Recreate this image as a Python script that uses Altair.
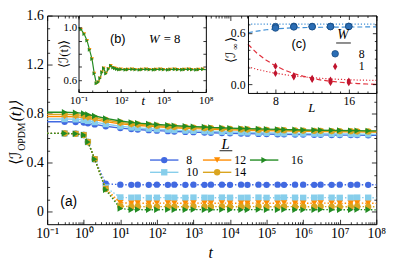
import altair as alt
import pandas as pd

# ---------------- data ----------------
T = [0.1, 0.3, 0.6, 1, 1.3, 2, 4, 10,
     20, 30, 60, 100, 200, 300, 600,
     1e3, 2e3, 3e3, 6e3, 1e4, 2e4, 3e4,
     6e4, 1e5, 2e5, 3e5, 6e5, 1e6, 2e6,
     3e6, 6e6, 1e7, 2e7, 3e7, 6e7, 1e8]
L_SIZES = [8, 10, 12, 14, 16]

upper_8 = [0.735, 0.735, 0.733, 0.728, 0.722, 0.713, 0.698, 0.683,
           0.675, 0.671, 0.666, 0.662, 0.658, 0.655, 0.652,
           0.650, 0.647, 0.645, 0.643, 0.641, 0.639, 0.638,
           0.636, 0.635, 0.633, 0.632, 0.631, 0.630, 0.629,
           0.628, 0.627, 0.627, 0.626, 0.626, 0.625, 0.624]
upper_10 = [0.757, 0.757, 0.755, 0.750, 0.742, 0.732, 0.716, 0.698,
            0.689, 0.684, 0.679, 0.674, 0.671, 0.667, 0.663,
            0.661, 0.658, 0.656, 0.653, 0.651, 0.649, 0.648,
            0.646, 0.644, 0.643, 0.641, 0.640, 0.639, 0.638,
            0.637, 0.636, 0.635, 0.635, 0.634, 0.633, 0.632]
upper_12 = [0.778, 0.778, 0.775, 0.770, 0.763, 0.752, 0.736, 0.718,
            0.709, 0.704, 0.699, 0.694, 0.690, 0.686, 0.682,
            0.679, 0.677, 0.674, 0.672, 0.669, 0.667, 0.666,
            0.664, 0.663, 0.661, 0.660, 0.658, 0.657, 0.656,
            0.655, 0.654, 0.653, 0.653, 0.652, 0.651, 0.650]
upper_14 = [0.795, 0.795, 0.792, 0.787, 0.778, 0.767, 0.749, 0.729,
            0.719, 0.714, 0.708, 0.703, 0.698, 0.694, 0.690,
            0.687, 0.684, 0.682, 0.679, 0.676, 0.674, 0.673,
            0.670, 0.669, 0.667, 0.666, 0.664, 0.663, 0.661,
            0.661, 0.659, 0.659, 0.658, 0.657, 0.656, 0.655]
upper_16 = [0.812, 0.812, 0.809, 0.803, 0.794, 0.782, 0.762, 0.741,
            0.730, 0.724, 0.718, 0.712, 0.707, 0.703, 0.698,
            0.695, 0.692, 0.689, 0.686, 0.683, 0.680, 0.679,
            0.677, 0.675, 0.673, 0.671, 0.670, 0.668, 0.667,
            0.666, 0.665, 0.664, 0.663, 0.662, 0.661, 0.660]

lower_8 = [0.640, 0.640, 0.637, 0.627, 0.570, 0.430, 0.230, 0.222,
           0.221, 0.222, 0.221, 0.222, 0.221, 0.222, 0.221,
           0.222, 0.221, 0.222, 0.222, 0.221, 0.222, 0.221,
           0.222, 0.221, 0.222, 0.221, 0.222, 0.222, 0.221,
           0.222, 0.221, 0.222, 0.221, 0.222, 0.221, 0.222]
lower_10 = [0.640, 0.640, 0.637, 0.627, 0.570, 0.430, 0.200, 0.118,
            0.116, 0.117, 0.115, 0.116, 0.117, 0.116, 0.115,
            0.117, 0.116, 0.115, 0.117, 0.116, 0.115, 0.116,
            0.117, 0.115, 0.116, 0.117, 0.116, 0.115, 0.116,
            0.117, 0.116, 0.115, 0.116, 0.117, 0.116, 0.115]
lower_12 = [0.640, 0.640, 0.637, 0.627, 0.570, 0.430, 0.190, 0.075,
            0.071, 0.072, 0.070, 0.071, 0.072, 0.071, 0.070,
            0.072, 0.071, 0.070, 0.072, 0.071, 0.070, 0.071,
            0.072, 0.070, 0.071, 0.072, 0.071, 0.070, 0.071,
            0.072, 0.071, 0.070, 0.071, 0.072, 0.071, 0.070]
lower_14 = [0.640, 0.640, 0.637, 0.627, 0.570, 0.430, 0.186, 0.047,
            0.043, 0.044, 0.042, 0.043, 0.044, 0.043, 0.042,
            0.044, 0.043, 0.042, 0.044, 0.043, 0.042, 0.043,
            0.044, 0.042, 0.043, 0.044, 0.043, 0.042, 0.043,
            0.044, 0.043, 0.042, 0.043, 0.044, 0.043, 0.042]
lower_16 = [0.640, 0.640, 0.637, 0.627, 0.570, 0.430, 0.180, 0.028,
            0.018, 0.019, 0.017, 0.018, 0.019, 0.018, 0.017,
            0.019, 0.018, 0.017, 0.019, 0.018, 0.017, 0.018,
            0.019, 0.017, 0.018, 0.019, 0.018, 0.017, 0.018,
            0.019, 0.018, 0.017, 0.018, 0.019, 0.018, 0.017]

UPPER = [upper_8, upper_10, upper_12, upper_14, upper_16]
LOWER = [lower_8, lower_10, lower_12, lower_14, lower_16]

# inset (b): W = 8
TB = [0.1, 0.15, 0.25, 0.4, 0.6, 0.9, 1.3, 1.8, 2.5, 3.3,
      4.5, 6, 8.6, 13, 19, 27, 36, 50, 70, 100,
      200, 300, 600, 1e3, 2e3, 3e3, 6e3, 1e4, 2e4, 3e4,
      6e4, 1e5, 2e5, 3e5, 6e5, 1e6, 2e6, 3e6, 6e6, 1e7,
      2e7, 3e7, 6e7, 1e8]
IB = [1.000, 0.985, 0.950, 0.900, 0.830, 0.760, 0.650, 0.575, 0.585, 0.615,
      0.660, 0.690, 0.650, 0.685, 0.710, 0.695, 0.690, 0.685, 0.680, 0.682,
      0.679, 0.681, 0.683, 0.680, 0.678, 0.681, 0.682, 0.680, 0.679, 0.681,
      0.683, 0.680, 0.678, 0.681, 0.682, 0.680, 0.679, 0.681, 0.683, 0.680,
      0.678, 0.681, 0.682, 0.680]

# inset (c): saturation values vs L
LC = [8, 10, 12, 14, 16]
w8_a = [0.672, 0.675, 0.673, 0.674, 0.675]
w8_b = [0.655, 0.668, 0.670, 0.671, 0.672]
w1_a = [0.212, 0.100, 0.068, 0.050, 0.038]
w1_b = [0.128, 0.088, 0.058, 0.022, 0.020]
L_FIT = [5, 6, 7, 8, 9, 10, 11, 12, 13, 14, 15, 16, 17, 18, 19]
fit_w8_dotted = [0.700, 0.700, 0.700, 0.700, 0.700, 0.700, 0.700, 0.700,
                 0.700, 0.700, 0.700, 0.700, 0.700, 0.700, 0.700]
fit_w8_dashed = [0.600, 0.620, 0.635, 0.645, 0.652, 0.657, 0.660, 0.662,
                 0.664, 0.665, 0.666, 0.667, 0.667, 0.668, 0.668]
fit_w1_dashed = [0.466, 0.360, 0.280, 0.215, 0.165, 0.125, 0.095, 0.070,
                 0.050, 0.036, 0.025, 0.016, 0.009, 0.004, 0.000]
fit_w1_dotted = [0.204, 0.175, 0.150, 0.130, 0.113, 0.099, 0.088, 0.078,
                 0.070, 0.063, 0.058, 0.054, 0.050, 0.048, 0.046]

# ---------------- styles ----------------
SERIF = "Liberation Serif"
SANS = "Liberation Sans"
COLORS = {8: "#4169e1", 10: "#87ceeb", 12: "#ff8c00", 14: "#daa520", 16: "#228b22"}
SHAPES = {8: "circle", 10: "square", 12: "triangle-down", 14: "circle", 16: "triangle-right"}
BLUE_C = "#2a6db5"
RED_C = "#c0142e"
THIN_DIAMOND = "M0,-1L0.6,0L0,1L-0.6,0Z"

W, H = 336, 213

SUP = {'-': '\u207b', '0': '\u2070', '1': '\u00b9', '2': '\u00b2', '3': '\u00b3',
       '4': '\u2074', '5': '\u2075', '6': '\u2076', '7': '\u2077', '8': '\u2078', '9': '\u2079'}


def pow_expr(exps):
    parts = []
    for e in exps:
        s = ''.join(SUP[c] for c in str(e))
        parts.append(f"abs(log(datum.value)/LN10 - ({e})) < 0.01 ? '10{s}'")
    return ' : '.join(parts) + " : ''"


def ax(orient, values=None, labels=False, ticks=True, domain=False, size=4,
       offset=0, z=0, **kw):
    d = dict(orient=orient, grid=False, labels=labels, ticks=ticks, domain=domain,
             offset=offset, title=None, domainColor='black', tickColor='black',
             tickWidth=0.8, domainWidth=1, labelColor='black', labelFont=SERIF,
             zindex=z, labelFlush=False, labelOverlap=False, labelBound=False)
    if ticks:
        d['tickSize'] = size
    if values is not None:
        d['values'] = values
    d.update(kw)
    return alt.Axis(**d)


def axis_layer(xs, ys, xaxis, yaxis, x0, y0):
    df = pd.DataFrame({'x': [x0], 'y': [y0]})
    return alt.Chart(df).mark_point(opacity=0).encode(
        x=alt.X('x:Q', scale=xs, axis=xaxis),
        y=alt.Y('y:Q', scale=ys, axis=yaxis))


def text(x, y, s, size=13, font=SERIF, style='normal', angle=0, align='center',
         baseline='middle', color='black'):
    return alt.Chart(pd.DataFrame({'a': [0]})).mark_text(
        text=s, font=font, fontSize=size, fontStyle=style, angle=angle,
        align=align, baseline=baseline, color=color).encode(
        x=alt.value(x), y=alt.value(y))


def rule(x1, x2, y1, y2, color='black', width=1):
    return alt.Chart(pd.DataFrame({'a': [0]})).mark_rule(
        color=color, strokeWidth=width).encode(
        x=alt.value(x1), x2=alt.value(x2), y=alt.value(y1), y2=alt.value(y2))


def box(x1, x2, y1, y2):
    return alt.Chart(pd.DataFrame({'a': [0]})).mark_rect(
        fill='white', strokeWidth=0).encode(
        x=alt.value(x1), x2=alt.value(x2), y=alt.value(y1), y2=alt.value(y2))


layers = []

# ---------------- main panel ----------------
xs_m = alt.Scale(type='log', domain=[0.1, 1e8], range=[0, W], nice=False)
ys_m = alt.Scale(domain=[-0.1, 1.6], range=[H, 0], nice=False, zero=False)
dec = [10.0 ** e for e in range(-1, 9)]
dec_minor = [k * 10.0 ** e for e in range(-1, 8) for k in range(2, 10)]
y_major = [0, 0.4, 0.8, 1.2, 1.6]
y_minor = [0.1, 0.2, 0.3, 0.5, 0.6, 0.7, 0.9, 1.0, 1.1, 1.3, 1.4, 1.5]

layers += [
    axis_layer(xs_m, ys_m,
               ax('bottom', dec, labels=True, ticks=False, domain=True,
                  labelExpr=pow_expr(list(range(-1, 9))), labelFontSize=14,
                  labelPadding=3),
               ax('left', y_major, labels=True, ticks=False, domain=True,
                  labelExpr="datum.value == 0 ? '0' : format(datum.value, '.1f')",
                  labelFontSize=14, labelPadding=4), 1, 0.5),
    axis_layer(xs_m, ys_m, ax('top', dec, size=5, offset=-H),
               ax('right', y_major, size=5, offset=-W), 1, 0.5),
    axis_layer(xs_m, ys_m, ax('bottom', dec, size=5, offset=-H, domain=True),
               ax('left', y_major, size=5, offset=-W, domain=True), 1, 0.5),
    axis_layer(xs_m, ys_m, ax('top', dec_minor, size=2.5, offset=-H),
               ax('right', y_minor, size=2.5, offset=-W), 1, 0.5),
    axis_layer(xs_m, ys_m, ax('bottom', dec_minor, size=2.5, offset=-H),
               ax('left', y_minor, size=2.5, offset=-W), 1, 0.5),
]

rows = []
for L, up, lo in zip(L_SIZES, UPPER, LOWER):
    for i, t in enumerate(T):
        mk = 0 < i < len(T) - 1
        rows.append(dict(t=t, v=up[i], L=L, branch='upper', mk=mk))
        rows.append(dict(t=t, v=lo[i], L=L, branch='lower', mk=mk))
dfm = pd.DataFrame(rows)

for br, dash in [('lower', [1.5, 2]), ('upper', None)]:
    d = dfm[dfm.branch == br]
    lk = dict(strokeWidth=1.4)
    if dash:
        lk['strokeDash'] = dash
    for L in L_SIZES:
        dl = d[d.L == L]
        layers.append(alt.Chart(dl).mark_line(color=COLORS[L], **lk).encode(
            x=alt.X('t:Q', scale=xs_m, axis=None),
            y=alt.Y('v:Q', scale=ys_m, axis=None)))
        dp = dl[dl.mk]
        layers.append(alt.Chart(dp).mark_point(
            filled=True, opacity=1, size=42, color=COLORS[L],
            shape=SHAPES[L]).encode(
            x=alt.X('t:Q', scale=xs_m, axis=None),
            y=alt.Y('v:Q', scale=ys_m, axis=None)))

# main legend
COL_X = [105, 159, 207]
COL_TX = [142, 191, 249]
ROW_Y = [147.5, 160]
HL = 29
for i, L in enumerate(L_SIZES):
    c, r = i // 2, i % 2
    layers.append(rule(COL_X[c], COL_X[c] + HL, ROW_Y[r], ROW_Y[r], COLORS[L], 1.4))
    layers.append(alt.Chart(pd.DataFrame({'a': [0]})).mark_point(
        filled=True, opacity=1, size=42, color=COLORS[L], shape=SHAPES[L]).encode(
        x=alt.value(COL_X[c] + HL / 2), y=alt.value(ROW_Y[r])))
    layers.append(text(COL_TX[c], ROW_Y[r], str(L), size=12, align='left'))
layers.append(text(182, 131, 'L', size=15, style='italic'))
layers.append(rule(176, 189, 138, 138, 'black', 0.9))

# main labels
layers.append(text(22, 190, '(a)', size=14, font=SANS))
layers.append(text(167, 242, 't', size=16, style='italic'))
layers.append(text(-27, 153, '\u27e8\u2110', size=16, angle=270, align='left',
                   baseline='alphabetic'))
layers.append(text(-23, 138, 'OPDM', size=10, angle=270, align='left',
                   baseline='alphabetic'))
layers.append(text(-27, 108, '(t)\u27e9', size=16, angle=270, align='left',
                   baseline='alphabetic', style='italic'))

# ---------------- inset (b) ----------------
BX0, BX1, BY0, BY1 = 32, 162, 0, 78
xs_b = alt.Scale(type='log', domain=[0.1, 1e8], range=[BX0, BX1], nice=False)
ys_b = alt.Scale(domain=[0.51, 1.09], range=[BY1, BY0], nice=False, zero=False)
b_lab = [0.1, 100, 1e5, 1e8]
b_dec = [10.0 ** e for e in range(-1, 9)]
b_y = [0.6, 0.7, 0.8, 0.9, 1.0]

layers.append(box(BX0, BX1, BY0, BY1))
dfb = pd.DataFrame({'t': TB, 'v': IB})
dfbm = dfb.iloc[1:-1]
layers.append(alt.Chart(dfb).mark_line(color=COLORS[16], strokeWidth=1.2).encode(
    x=alt.X('t:Q', scale=xs_b, axis=None), y=alt.Y('v:Q', scale=ys_b, axis=None)))
layers.append(alt.Chart(dfbm).mark_point(filled=True, opacity=1, size=16,
                                         color=COLORS[12], shape='triangle-down').encode(
    x=alt.X('t:Q', scale=xs_b, axis=None), y=alt.Y('v:Q', scale=ys_b, axis=None)))
layers.append(alt.Chart(dfbm).mark_point(filled=True, opacity=1, size=16,
                                         color=COLORS[16], shape='triangle-right').encode(
    x=alt.X('t:Q', scale=xs_b, axis=None), y=alt.Y('v:Q', scale=ys_b, axis=None)))

layers += [
    axis_layer(xs_b, ys_b,
               ax('bottom', b_lab, labels=True, ticks=False, domain=True,
                  offset=BY1 - H, labelExpr=pow_expr([-1, 2, 5, 8]),
                  labelFontSize=11, labelPadding=3, z=1),
               ax('left', [0.6, 1.0], labels=True, ticks=False, domain=True,
                  offset=-BX0, format='.1f', labelFontSize=11, labelPadding=2, z=1),
               1, 0.7),
    axis_layer(xs_b, ys_b, ax('top', b_lab, size=3.5, offset=-BY1, z=1),
               ax('right', b_y, size=3, offset=BX0 - W, z=1), 1, 0.7),
    axis_layer(xs_b, ys_b, ax('bottom', b_lab, size=3.5, offset=BY0 - H, domain=True, z=1),
               ax('left', b_y, size=3, offset=-BX1, domain=True, z=1), 1, 0.7),
    axis_layer(xs_b, ys_b, ax('top', b_dec, size=2, offset=-BY1, z=1), None, 1, 0.7),
    axis_layer(xs_b, ys_b, ax('bottom', b_dec, size=2, offset=BY0 - H, z=1), None, 1, 0.7),
]
layers.append(text(72, 24, '(b)', size=13, font=SANS))
layers.append(text(104, 24, 'W', size=13, style='italic', align='left'))
layers.append(text(119, 24, '= 8', size=13, align='left'))
layers.append(text(98, 87, 't', size=13, style='italic'))
layers.append(text(21, 39, '\u27e8\u2110(t)\u27e9', size=13, angle=270,
                   baseline='alphabetic'))

# ---------------- inset (c) ----------------
CX0, CX1, CY0, CY1 = 205, 336, 0, 79
xs_c = alt.Scale(domain=[5, 19], range=[CX0, CX1], nice=False, zero=False)
ys_c = alt.Scale(domain=[-0.1, 0.8], range=[CY1, CY0], nice=False, zero=False)
c_xmin = [5, 6, 7, 9, 10, 11, 12, 13, 14, 15, 17, 18, 19]
c_ymin = [0.1, 0.2, 0.3, 0.4, 0.5, 0.7]

layers.append(box(CX0, CX1, CY0, CY1))
for vals, color, dash in [(fit_w8_dotted, '#3f8fd6', [1.2, 2]),
                          (fit_w8_dashed, '#3f8fd6', [5, 3]),
                          (fit_w1_dashed, '#e0303c', [5, 3]),
                          (fit_w1_dotted, '#e0303c', [1.2, 2])]:
    layers.append(alt.Chart(pd.DataFrame({'L': L_FIT, 'v': vals})).mark_line(
        color=color, strokeWidth=1.2, strokeDash=dash).encode(
        x=alt.X('L:Q', scale=xs_c, axis=None), y=alt.Y('v:Q', scale=ys_c, axis=None)))
for vals in (w8_a, w8_b):
    layers.append(alt.Chart(pd.DataFrame({'L': LC, 'v': vals})).mark_point(
        filled=True, opacity=1, size=45, color=BLUE_C, stroke='#174a80',
        strokeWidth=0.8, shape='circle').encode(
        x=alt.X('L:Q', scale=xs_c, axis=None), y=alt.Y('v:Q', scale=ys_c, axis=None)))
for vals in (w1_a, w1_b):
    layers.append(alt.Chart(pd.DataFrame({'L': LC, 'v': vals})).mark_point(
        filled=True, opacity=1, size=55, color=RED_C, shape=THIN_DIAMOND).encode(
        x=alt.X('L:Q', scale=xs_c, axis=None), y=alt.Y('v:Q', scale=ys_c, axis=None)))

layers += [
    axis_layer(xs_c, ys_c,
               ax('bottom', [8, 16], labels=True, ticks=False, domain=True,
                  offset=CY1 - H, labelFontSize=12, labelPadding=3, z=1),
               ax('left', [0, 0.6], labels=True, ticks=False, domain=True,
                  offset=-CX0, format='.1f', labelFontSize=12, labelPadding=3, z=1),
               10, 0.3),
    axis_layer(xs_c, ys_c, ax('top', [8, 16], size=4, offset=-CY1, z=1),
               ax('right', [0, 0.6], size=4, offset=CX0 - W, z=1), 10, 0.3),
    axis_layer(xs_c, ys_c, ax('bottom', [8, 16], size=4, offset=CY0 - H, domain=True, z=1),
               ax('left', [0, 0.6], size=4, offset=-CX1, domain=True, z=1), 10, 0.3),
    axis_layer(xs_c, ys_c, ax('top', c_xmin, size=2, offset=-CY1, z=1),
               ax('right', c_ymin, size=2, offset=CX0 - W, z=1), 10, 0.3),
    axis_layer(xs_c, ys_c, ax('bottom', c_xmin, size=2, offset=CY0 - H, z=1),
               ax('left', c_ymin, size=2, offset=-CX1, z=1), 10, 0.3),
]
layers.append(text(257, 29, '(c)', size=13, font=SANS))
layers.append(text(270, 88, 'L', size=13, style='italic', baseline='top'))
layers.append(text(192, 48, '\u27e8\u2110', size=13, angle=270, align='left',
                   baseline='alphabetic'))
layers.append(text(195, 35, '\u221e', size=9, angle=270, align='left',
                   baseline='alphabetic'))
layers.append(text(192, 27, '\u27e9', size=13, angle=270, align='left',
                   baseline='alphabetic'))
# inset (c) legend
layers.append(text(302, 20, 'W', size=14, style='italic'))
layers.append(rule(295, 310, 28, 28, 'black', 0.9))
layers.append(alt.Chart(pd.DataFrame({'a': [0]})).mark_point(
    filled=True, opacity=1, size=45, color=BLUE_C, stroke='#174a80', strokeWidth=0.8,
    shape='circle').encode(x=alt.value(294), y=alt.value(39)))
layers.append(alt.Chart(pd.DataFrame({'a': [0]})).mark_point(
    filled=True, opacity=1, size=55, color=RED_C, shape=THIN_DIAMOND).encode(
    x=alt.value(294), y=alt.value(52)))
layers.append(text(318, 39, '8', size=12, align='left'))
layers.append(text(318, 52, '1', size=12, align='left'))

chart = alt.layer(*layers).resolve_scale(
    x='independent', y='independent'
).properties(
    width=W, height=H,
    padding={'left': 40, 'top': 5, 'right': 15, 'bottom': 43},
    autosize=alt.AutoSizeParams(type='none'),
    background='white'
).configure_view(stroke=None)

chart.save("out.html", embed_options={"renderer": "svg", "actions": False})
